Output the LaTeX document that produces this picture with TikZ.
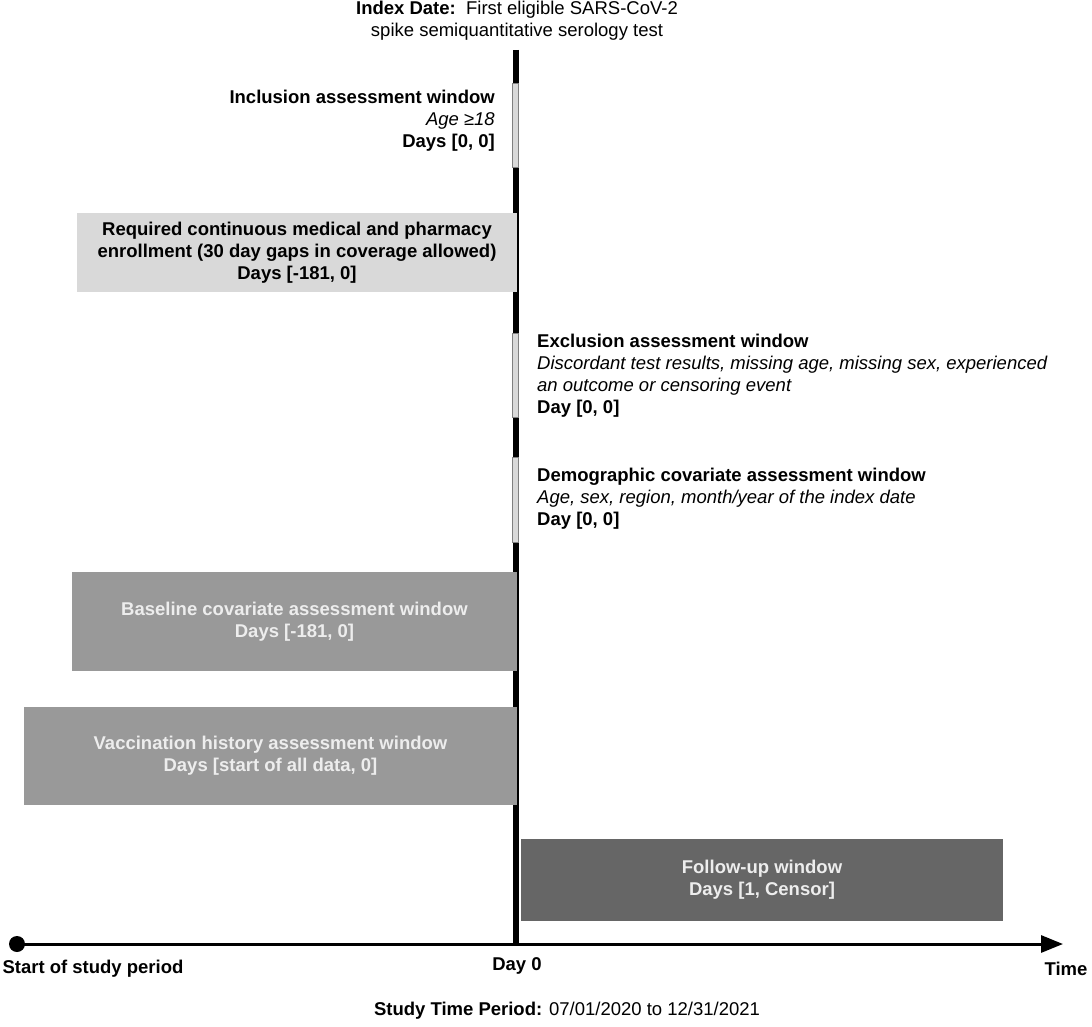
\documentclass[tikz,border=0pt]{standalone}
\usepackage{fontspec}
\setmainfont{Liberation Sans}
\usetikzlibrary{arrows.meta}

\definecolor{lightbar}{HTML}{D9D9D9}
\definecolor{midbar}{HTML}{999999}
\definecolor{darkbar}{HTML}{666666}

\tikzset{
  every node/.style={font=\fontsize{18.5}{22}\selectfont, inner sep=0pt},
  winbox/.style={anchor=center, align=center, font=\fontsize{18.5}{22}\selectfont\bfseries},
  marker/.style={fill=lightbar, draw=gray, line width=0.5pt}
}

\begin{document}
\begin{tikzpicture}[x=1pt,y=-1pt]
\useasboundingbox (0,0) rectangle (1092,1027);

% index date and time axis
\node[align=center] (index) at (517,21) {\textbf{Index Date:}\ \ First eligible SARS-CoV-2\\spike semiquantitative serology test};
\coordinate (top) at (516,50);
\coordinate (day0) at (516,944);
\coordinate (start) at (17,944);
\coordinate (tend) at (1063,944);
\draw[line width=6pt] (top) -- (day0);
\draw[line width=3pt,-{Triangle[length=22pt,width=17pt]}] (start) -- (tend);
\fill (start) circle (8);

% windows at day 0
\filldraw[marker] (512.5,83) rectangle (518,167);
\filldraw[marker] (512.5,333) rectangle (518,417);
\filldraw[marker] (512.5,457) rectangle (518,542);

\node[anchor=east,align=right] (incl) at (495,121) {\textbf{Inclusion assessment window}\\\textit{Age ≥18}\\\textbf{Days [0, 0]}};
\node[anchor=west,align=left] (excl) at (537,376) {\textbf{Exclusion assessment window}\\\textit{Discordant test results, missing age, missing sex, experienced}\\\textit{an outcome or censoring event}\\\textbf{Day [0, 0]}};
\node[anchor=west,align=left] (demo) at (537,499) {\textbf{Demographic covariate assessment window}\\\textit{Age, sex, region, month/year of the index date}\\\textbf{Day [0, 0]}};

% windows before and after day 0
\node[winbox,fill=lightbar,minimum width=440pt,minimum height=79pt] (enrol) at (297,252.5) {Required continuous medical and pharmacy\\enrollment (30 day gaps in coverage allowed)\\Days [-181, 0]};
\node[winbox,fill=midbar,text=white!93!black,minimum width=445pt,minimum height=99pt] (base) at (294.5,621.5) {Baseline covariate assessment window\\Days [-181, 0]};
\node[winbox,fill=midbar,text=white!93!black,minimum width=493pt,minimum height=98pt] (vacc) at (270.5,756) {Vaccination history assessment window\\Days [start of all data, 0]};
\node[winbox,fill=darkbar,text=white!93!black,minimum width=482pt,minimum height=82pt] (follow) at (762,880) {Follow-up window\\Days [1, Censor]};

% axis labels
\node (startlbl) at (93,969) {\textbf{Start of study period}};
\node (daylbl) at (517,966) {\textbf{Day 0}};
\node (timelbl) at (1066,969) {\textbf{Time}};
\node (period) at (567,1011) {\textbf{Study Time Period:} 07/01/2020 to 12/31/2021};
\end{tikzpicture}
\end{document}
